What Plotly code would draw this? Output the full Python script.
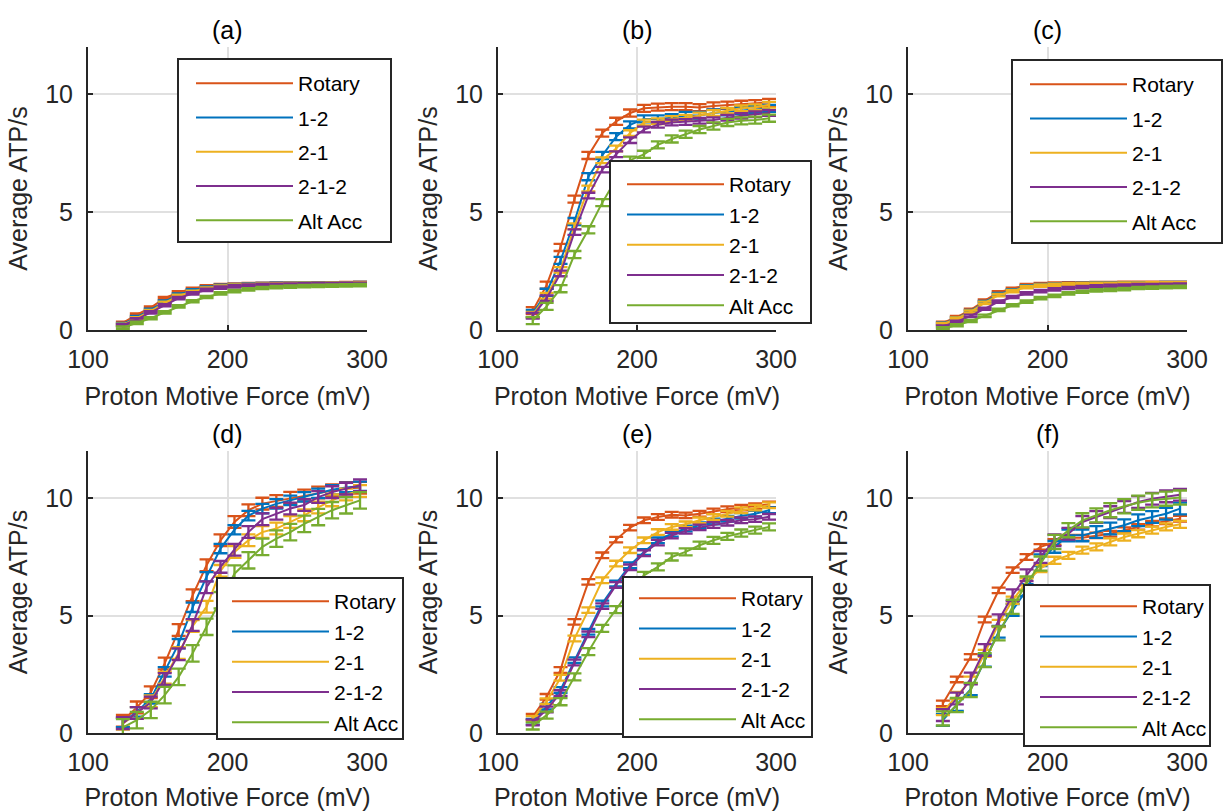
import plotly.graph_objects as go

# ---------------- data ----------------
pmf = [125, 135, 145, 155, 165, 175, 185, 195, 205, 215, 225, 235, 245, 255, 265, 275, 285, 295]
series_names = ["Rotary", "1-2", "2-1", "2-1-2", "Alt Acc"]
panel_labels = ["(a)", "(b)", "(c)", "(d)", "(e)", "(f)"]
x_ticks = [100, 200, 300]
y_ticks = [0, 5, 10]

a_rotary = [0.3, 0.65, 0.95, 1.35, 1.6, 1.75, 1.85, 1.9, 1.93, 1.95, 1.96, 1.97, 1.97, 1.97, 1.98, 1.98, 1.99, 2.0]
a_12 = [0.25, 0.55, 0.85, 1.2, 1.5, 1.68, 1.8, 1.87, 1.9, 1.93, 1.95, 1.96, 1.96, 1.97, 1.97, 1.98, 1.98, 1.99]
a_21 = [0.22, 0.5, 0.8, 1.15, 1.45, 1.62, 1.76, 1.84, 1.88, 1.91, 1.93, 1.94, 1.95, 1.96, 1.96, 1.97, 1.97, 1.98]
a_212 = [0.2, 0.45, 0.75, 1.05, 1.35, 1.55, 1.7, 1.8, 1.85, 1.88, 1.9, 1.92, 1.93, 1.94, 1.95, 1.95, 1.96, 1.96]
a_alt = [0.1, 0.3, 0.5, 0.75, 1.0, 1.22, 1.4, 1.55, 1.65, 1.72, 1.78, 1.82, 1.84, 1.86, 1.87, 1.88, 1.89, 1.9]
a_err = [0.05, 0.05, 0.05, 0.05, 0.05]

b_rotary = [0.82, 1.9, 3.5, 5.55, 7.4, 8.35, 8.85, 9.2, 9.4, 9.45, 9.47, 9.47, 9.43, 9.5, 9.53, 9.57, 9.6, 9.65]
b_12 = [0.7, 1.6, 2.95, 4.6, 6.5, 7.4, 8.2, 8.7, 8.95, 8.95, 9.0, 9.1, 9.1, 9.2, 9.25, 9.3, 9.35, 9.4]
b_21 = [0.65, 1.45, 2.55, 4.4, 6.0, 7.2, 7.7, 8.35, 8.8, 8.85, 8.95, 9.0, 9.1, 9.2, 9.3, 9.4, 9.45, 9.55]
b_212 = [0.6, 1.35, 2.4, 4.15, 5.7, 6.8, 7.45, 8.05, 8.5, 8.7, 8.8, 8.82, 8.87, 8.9, 9.0, 9.08, 9.15, 9.2]
b_alt = [0.4, 1.0, 1.75, 3.2, 4.25, 5.4, 6.4, 7.2, 7.45, 7.85, 8.1, 8.3, 8.5, 8.65, 8.8, 8.87, 8.9, 8.98]
b_err = [0.15, 0.15, 0.12, 0.12, 0.15]

c_rotary = [0.3, 0.55, 0.85, 1.25, 1.6, 1.75, 1.9, 1.95, 1.97, 1.98, 1.98, 1.99, 1.99, 2.0, 2.0, 2.0, 2.0, 2.0]
c_12 = [0.27, 0.5, 0.8, 1.18, 1.52, 1.68, 1.85, 1.9, 1.93, 1.95, 1.96, 1.97, 1.97, 1.98, 1.98, 1.98, 1.99, 1.99]
c_21 = [0.25, 0.48, 0.78, 1.15, 1.48, 1.65, 1.82, 1.88, 1.92, 1.94, 1.95, 1.96, 1.96, 1.97, 1.97, 1.98, 1.98, 1.98]
c_212 = [0.15, 0.35, 0.6, 0.9, 1.2, 1.4, 1.55, 1.65, 1.72, 1.78, 1.82, 1.85, 1.87, 1.88, 1.9, 1.91, 1.92, 1.93]
c_alt = [0.07, 0.2, 0.38, 0.6, 0.85, 1.05, 1.2, 1.35, 1.45, 1.55, 1.62, 1.68, 1.7, 1.73, 1.78, 1.8, 1.82, 1.83]
c_err = [0.05, 0.05, 0.05, 0.05, 0.05]

d_rotary = [0.52, 1.09, 1.73, 2.96, 4.38, 5.86, 7.14, 8.2, 8.98, 9.48, 9.76, 9.87, 10.01, 10.11, 10.23, 10.33, 10.42, 10.44]
d_12 = [0.45, 0.9, 1.45, 2.6, 3.8, 5.35, 6.65, 7.85, 8.65, 9.25, 9.55, 9.75, 9.9, 10.05, 10.2, 10.35, 10.45, 10.5]
d_21 = [0.4, 0.85, 1.35, 2.35, 3.4, 4.55, 5.37, 6.9, 7.7, 8.2, 8.55, 8.7, 8.98, 9.26, 9.6, 9.9, 10.15, 10.3]
d_212 = [0.42, 0.85, 1.3, 2.3, 3.35, 4.6, 6.2, 7.07, 7.8, 8.55, 9.1, 9.33, 9.55, 9.7, 10.04, 10.25, 10.4, 10.54]
d_alt = [0.24, 0.55, 0.98, 1.61, 2.39, 3.39, 4.52, 5.65, 6.78, 7.35, 7.92, 8.27, 8.55, 8.9, 9.19, 9.48, 9.69, 9.9]
d_err = [0.25, 0.2, 0.25, 0.25, 0.35]

e_rotary = [0.69, 1.54, 2.68, 4.73, 6.43, 7.56, 8.23, 8.74, 9.05, 9.19, 9.29, 9.26, 9.33, 9.43, 9.52, 9.59, 9.65, 9.73]
e_12 = [0.48, 1.12, 1.83, 3.1, 4.31, 5.51, 6.36, 7.14, 7.7, 8.2, 8.48, 8.7, 8.84, 9.0, 9.12, 9.24, 9.33, 9.48]
e_21 = [0.6, 1.35, 2.35, 4.02, 5.23, 6.5, 7.21, 7.78, 8.2, 8.55, 8.77, 8.88, 9.05, 9.19, 9.33, 9.48, 9.59, 9.69]
e_212 = [0.45, 1.0, 1.7, 3.0, 4.2, 5.4, 6.3, 7.05, 7.65, 8.1, 8.4, 8.6, 8.75, 8.85, 8.95, 9.05, 9.1, 9.2]
e_alt = [0.3, 0.76, 1.33, 2.39, 3.46, 4.45, 5.25, 6.08, 6.71, 7.07, 7.49, 7.71, 7.99, 8.2, 8.37, 8.51, 8.63, 8.77]
e_err = [0.12, 0.12, 0.12, 0.12, 0.15]

f_rotary = [1.26, 2.28, 3.24, 4.83, 6.07, 6.93, 7.49, 7.92, 8.13, 8.31, 8.31, 8.41, 8.48, 8.63, 8.77, 8.91, 9.01, 9.12]
f_12 = [0.55, 1.19, 1.86, 3.07, 4.31, 5.23, 6.08, 7.35, 7.92, 8.41, 8.41, 8.55, 8.7, 8.84, 9.05, 9.19, 9.33, 9.55]
f_21 = [0.91, 1.6, 2.25, 3.39, 4.66, 5.65, 6.43, 7.0, 7.35, 7.56, 7.78, 7.92, 8.13, 8.34, 8.48, 8.63, 8.77, 8.88]
f_212 = [0.76, 1.47, 2.32, 3.53, 4.8, 5.86, 6.71, 7.49, 8.2, 8.48, 8.98, 9.19, 9.4, 9.62, 9.83, 9.97, 10.07, 10.14]
f_alt = [0.62, 1.19, 1.83, 3.1, 4.24, 5.37, 6.36, 7.21, 8.13, 8.63, 9.05, 9.26, 9.48, 9.65, 9.8, 9.9, 9.97, 10.02]
f_err = [0.12, 0.25, 0.15, 0.25, 0.3]

panels = [
    [a_rotary, a_12, a_21, a_212, a_alt],
    [b_rotary, b_12, b_21, b_212, b_alt],
    [c_rotary, c_12, c_21, c_212, c_alt],
    [d_rotary, d_12, d_21, d_212, d_alt],
    [e_rotary, e_12, e_21, e_212, e_alt],
    [f_rotary, f_12, f_21, f_212, f_alt],
]
panel_errs = [a_err, b_err, c_err, d_err, e_err, f_err]

# ---------------- style / layout ----------------
colors = ["#D95319", "#0072BD", "#EDB120", "#7E2F8E", "#77AC30"]
W, H = 1225, 811
FONT = "Liberation Sans, Arial, Helvetica, sans-serif"
TXT = "#262626"

# plot areas in pixels (left, right, top, bottom)
col_px = [(88, 367), (498, 776), (908, 1187)]
row_px = [(47, 330), (451, 733)]
# legend frames in pixels (left, top, right, bottom), first line x-start, first item centre y, group gap
legend_box = [
    (178, 59, 391, 242, 196, 82, 4),
    (610, 161, 811, 323, 627, 183, 0),
    (1012, 60, 1222, 243, 1030, 83, 4),
    (217, 578, 403, 739, 232, 600, 0),
    (623, 577, 812, 737, 639, 597, 0),
    (1024, 585, 1210, 746, 1040, 605, 0),
]

fig = go.Figure()
layout = dict(
    width=W, height=H,
    margin=dict(l=0, r=0, t=0, b=0, autoexpand=False),
    paper_bgcolor="white", plot_bgcolor="white",
    font=dict(family=FONT, color=TXT, size=25),
    annotations=[], shapes=[],
)

for p in range(6):
    r, c = divmod(p, 3)
    ax = "" if p == 0 else str(p + 1)
    x0, x1 = col_px[c]
    y0, y1 = row_px[r]
    lg = "legend" if p == 0 else "legend%d" % (p + 1)
    for s, name in enumerate(series_names):
        fig.add_trace(go.Scatter(
            x=pmf, y=panels[p][s], name=name, mode="lines",
            line=dict(color=colors[s], width=2),
            error_y=dict(type="constant", value=panel_errs[p][s], color=colors[s], thickness=2.3, width=7),
            xaxis="x" + ax, yaxis="y" + ax, legend=lg,
            legendgroup="g%d_%d" % (p, s),
        ))
    layout["xaxis" + ax] = dict(
        domain=[x0 / W, x1 / W], anchor="y" + ax, range=[100, 300], automargin=False,
        tickvals=x_ticks, ticks="inside", ticklen=5, tickwidth=1.5, tickcolor=TXT,
        ticklabelstandoff=6,
        showline=True, linecolor=TXT, linewidth=2, showgrid=True, gridcolor="#e0e0e0", gridwidth=1.5,
        zeroline=False, tickfont=dict(size=25, color=TXT),
        title=dict(text="Proton Motive Force (mV)", font=dict(size=25, color=TXT), standoff=15),
        fixedrange=True,
    )
    layout["yaxis" + ax] = dict(
        domain=[1 - y1 / H, 1 - y0 / H], anchor="x" + ax, range=[0, 12], automargin=False,
        tickvals=y_ticks, ticks="inside", ticklen=5, tickwidth=1.5, tickcolor=TXT,
        ticklabelstandoff=8,
        showline=True, linecolor=TXT, linewidth=2, showgrid=True, gridcolor="#e0e0e0", gridwidth=1.5,
        zeroline=False, tickfont=dict(size=25, color=TXT),
        title=dict(text="Average ATP/s", font=dict(size=25, color=TXT), standoff=10),
        fixedrange=True,
    )
    bl, bt, br, bb, lx, ly, gap = legend_box[p]
    # legend frame (white box with dark border) drawn over the curves
    layout["shapes"].append(dict(
        type="rect", xref="paper", yref="paper",
        x0=bl / W, x1=br / W, y0=1 - bb / H, y1=1 - bt / H,
        line=dict(color=TXT, width=2), fillcolor="white", layer="above",
    ))
    layout[lg] = dict(
        x=(lx - 5) / W, y=1 - (ly - 19) / H, xanchor="left", yanchor="top", xref="paper", yref="paper",
        borderwidth=0, bgcolor="rgba(0,0,0,0)",
        font=dict(size=21, color="black", family=FONT),
        itemwidth=97, tracegroupgap=gap, itemclick=False, itemdoubleclick=False,
    )
    layout["annotations"].append(dict(
        text=panel_labels[p], x=(x0 + x1) / 2 / W, y=1 - (y0 - 1) / H,
        xref="paper", yref="paper", xanchor="center", yanchor="bottom",
        showarrow=False, font=dict(size=25, color="black", family=FONT),
    ))

fig.update_layout(**layout)
fig.write_html("out.html", config={"displayModeBar": False},
               post_script="document.body.style.margin='0px';")
